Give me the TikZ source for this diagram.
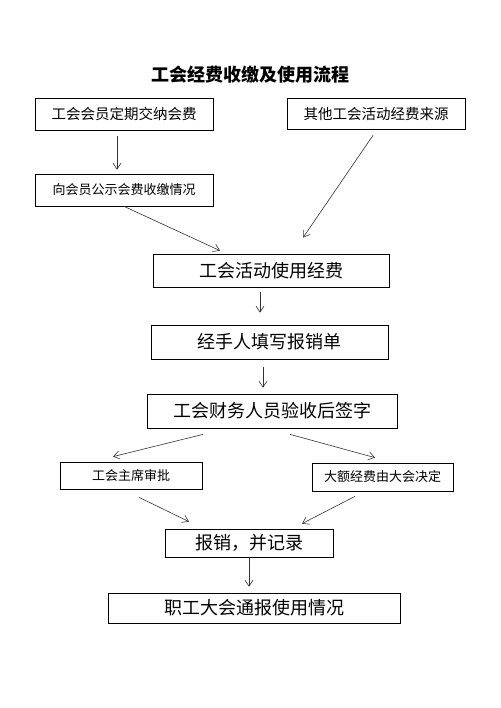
\documentclass[tikz,border=0pt]{standalone}
\usepackage{fontspec}
\newfontfamily\cjk{Noto Sans CJK SC}
\usepackage{tikz}
\usetikzlibrary{calc}
\usetikzlibrary{arrows.meta}

\begin{document}
\begin{tikzpicture}[x=1pt, y=-1pt,
    box/.style={rectangle, draw=black, line width=0.7pt, inner sep=0pt},
    big/.style={box, font=\cjk\fontsize{18}{20}\selectfont},
    mid/.style={box, font=\cjk\fontsize{14.5}{16}\selectfont},
    small/.style={box, font=\cjk\fontsize{13}{15}\selectfont},
    arr/.style={draw=black!80, line width=0.6pt, -{Straight Barb[length=6pt, width=8pt]}}]
            \useasboundingbox (0, 0) rectangle (500, 708);
            \node[font=\cjk\bfseries\fontsize{18}{20}\selectfont] (title) at (250, 75) {工会经费收缴及使用流程};
            \node[mid, minimum width=178pt, minimum height=32pt] (pay) at (124, 114) {工会会员定期交纳会费};
            \node[mid, minimum width=178pt, minimum height=31pt] (other) at (376, 113.5) {其他工会活动经费来源};
            \node[small, minimum width=178pt, minimum height=32pt] (notice) at (124, 190) {向会员公示会费收缴情况};
            \node[big, minimum width=236pt, minimum height=33pt] (use) at (271, 270.5) {工会活动使用经费};
            \node[big, minimum width=237pt, minimum height=34pt] (form) at (269.5, 342) {经手人填写报销单};
            \node[big, minimum width=250pt, minimum height=34pt] (check) at (272, 411) {工会财务人员验收后签字};
            \node[small, minimum width=142pt, minimum height=27pt] (chair) at (131, 475.5) {工会主席审批};
            \node[small, minimum width=141pt, minimum height=28pt] (meeting) at (382.5, 477) {大额经费由大会决定};
            \node[big, minimum width=168pt, minimum height=28pt] (record) at (249, 543) {报销，并记录};
            \node[big, minimum width=292pt, minimum height=30pt] (report) at (254, 608) {职工大会通报使用情况};

            \draw[arr] ($(pay.south) + (-7, 6)$) -- ($(notice.north) + (-7, -4)$);
            \draw[arr] (notice.south) -- ($(use.north) + (-51, -3)$);
            \draw[arr] ($(other.south) + (-3, 6)$) -- ($(use.north) + (32, -16)$);
            \draw[arr] ($(use.south) + (-11, 5)$) -- ($(form.north) + (-9.5, -12)$);
            \draw[arr] ($(form.south) + (-6.5, 8)$) -- ($(check.north) + (-9, -6)$);
            \draw[arr] ($(check.south) + (-69, 6)$) -- ($(chair.north) + (-18, -5)$);
            \draw[arr] ($(check.south) + (18, 6)$) -- ($(meeting.north) + (-7.5, -5)$);
            \draw[arr] ($(chair.south) + (8, 8)$) -- ($(record.north) + (-60, -7)$);
            \draw[arr] ($(meeting.south) + (-27.5, 5)$) -- ($(record.north) + (53, -5)$);
            \draw[arr] (record.south) -- ($(report.north) + (-5, -6)$);
        \end{tikzpicture}
\end{document}
